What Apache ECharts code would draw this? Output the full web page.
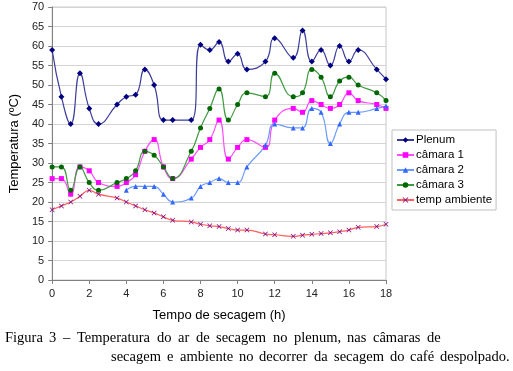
<!DOCTYPE html>
<html>
<head>
<meta charset="utf-8">
<script src="https://cdn.jsdelivr.net/npm/echarts@6/dist/echarts.min.js"></script>
<style>
  html, body { margin: 0; padding: 0; background: #fff; }
  #chart { width: 513px; height: 371px; }
</style>
</head>
<body>
<div id="chart"></div>
<script>
// tempo de secagem (h)
var horas = [0, 0.5, 1, 1.5, 2, 2.5, 3.5, 4, 4.5, 5, 5.5, 6, 6.5, 7.5, 8, 8.5, 9, 9.5, 10, 10.5, 11.5, 12, 13, 13.5, 14, 14.5, 15, 15.5, 16, 16.5, 17.5, 18];
var plenum = [59, 47, 40, 53, 44, 40, 45, 47, 47.5, 54, 50, 41, 41, 41, 60.3, 59, 61, 56, 58, 54, 56, 62, 57, 64, 56, 59, 55, 60, 56, 59, 54, 51.5];
var camara1 = [26, 26, 22, 29, 28, 25, 24, 25, 27, 33, 36, 29, 26, 31, 34, 36, 41, 31, 34, 36, 34, 41, 44, 43, 46, 45, 44, 45, 48, 46, 45, 44];
var camara2 = [null, null, null, null, null, null, null, 23, 24, 24, 24, 22, 20, 21, 24, 25, 26, 25, 25, 29, 34.6, 40, 39, 39, 44, 43, 35, 40, 43, 43, 44, 44.6];
var camara3 = [29, 29, 23, 29, 25, 23, 25, 26, 28, 33, 32, 29, 26, 33, 39, 44, 49, 41, 45, 48, 47, 53, 47, 48, 54, 52, 47, 51, 52, 50, 48, 46];
var ambiente = [18, 19, 20, 21.5, 23, 22, 21, 20, 19, 18, 17.2, 16.2, 15.3, 14.9, 14.3, 13.9, 13.7, 13.2, 12.8, 12.8, 11.8, 11.6, 11.2, 11.5, 11.7, 11.9, 12.1, 12.4, 12.8, 13.5, 13.7, 14.3];

var nomes = ['Plenum', 'câmara 1', 'câmara 2', 'câmara 3', 'temp ambiente'];

var legenda1 = 'Figura 3 – Temperatura do ar de secagem no plenum, nas câmaras de';
var legenda2 = 'secagem e ambiente no decorrer da secagem do café despolpado.';

function pares(vals) {
  return horas.map(function (h, i) { return [h, vals[i]]; });
}

// texto justificado: cada palavra como um texto, espaços distribuídos
var fonteLegenda = '14.5px "Liberation Serif", "Times New Roman", serif';
function justifica(linha, x0, x1, y) {
  var ctx = document.createElement('canvas').getContext('2d');
  ctx.font = fonteLegenda;
  var palavras = linha.split(' ');
  var larg = palavras.map(function (p) { return ctx.measureText(p).width; });
  var total = larg.reduce(function (s, w) { return s + w; }, 0);
  var gap = (x1 - x0 - total) / (palavras.length - 1);
  var x = x0;
  return palavras.map(function (p, i) {
    var el = { type: 'text', left: Math.round(x), top: y,
      style: { text: p, font: fonteLegenda, fill: '#000' } };
    x += larg[i] + gap;
    return el;
  });
}

var xis = 'path://M0,1L1,0L5,4L9,0L10,1L6,5L10,9L9,10L5,6L1,10L0,9L4,5Z';

var option = {
  animation: false,
  textStyle: { fontFamily: 'Liberation Sans, Arial, sans-serif' },
  grid: { left: 51, right: 127, top: 7, bottom: 91, show: true, borderColor: '#c8c8c8', borderWidth: 1 },
  legend: {
    orient: 'vertical',
    left: 392, top: 130,
    itemWidth: 17, itemHeight: 7, itemGap: 3,
    padding: [4, 4, 4, 4],
    borderColor: '#c0c0c0', borderWidth: 1,
    textStyle: { fontSize: 11.5, color: '#000', padding: [0, 0, 0, -3] },
    data: nomes
  },
  xAxis: {
    type: 'value', min: 0, max: 18, interval: 2,
    name: 'Tempo de secagem (h)', nameLocation: 'middle', nameGap: 29,
    nameTextStyle: { fontSize: 13, color: '#000' },
    axisLine: { lineStyle: { color: '#808080' } },
    axisTick: { show: true, length: 4, lineStyle: { color: '#808080' } },
    axisLabel: { fontSize: 11, color: '#222', margin: 8 },
    splitLine: { show: false }
  },
  yAxis: {
    type: 'value', min: 0, max: 70, interval: 5,
    name: 'Temperatura (ºC)', nameLocation: 'middle', nameGap: 30,
    nameTextStyle: { fontSize: 13, color: '#000' },
    axisLine: { show: true, lineStyle: { color: '#808080' } },
    axisTick: { show: true, length: 4, lineStyle: { color: '#808080' } },
    axisLabel: { fontSize: 11, color: '#222', margin: 8 },
    splitLine: { lineStyle: { color: '#d4d4d4', width: 1 } }
  },
  series: [
    { name: nomes[0], type: 'line', smooth: 0.5, data: pares(plenum),
      symbol: 'diamond', symbolSize: 6,
      lineStyle: { color: '#3d3d9c', width: 1.2 }, itemStyle: { color: '#000080' } },
    { name: nomes[1], type: 'line', smooth: 0.5, data: pares(camara1),
      symbol: 'rect', symbolSize: 5,
      lineStyle: { color: '#ff4dff', width: 1.2 }, itemStyle: { color: '#ff00ff' } },
    { name: nomes[2], type: 'line', smooth: 0.5, data: pares(camara2),
      symbol: 'triangle', symbolSize: 5,
      lineStyle: { color: '#6c9cff', width: 1.2 }, itemStyle: { color: '#3366ff' } },
    { name: nomes[3], type: 'line', smooth: 0.5, data: pares(camara3),
      symbol: 'circle', symbolSize: 5,
      lineStyle: { color: '#3f9a3f', width: 1.2 }, itemStyle: { color: '#006600' } },
    { name: nomes[4], type: 'line', smooth: 0.5, data: pares(ambiente),
      symbol: xis, symbolSize: 5,
      lineStyle: { color: '#ff6060', width: 1.2 }, itemStyle: { color: '#800080' } }
  ],
  graphic: justifica(legenda1, 5, 441, 331).concat(justifica(legenda2, 111, 510, 350))
};

var myChart = echarts.init(document.getElementById('chart'));
myChart.setOption(option);
window.addEventListener('resize', function () {
  myChart.resize();
}, false);
</script>
</body>
</html>
